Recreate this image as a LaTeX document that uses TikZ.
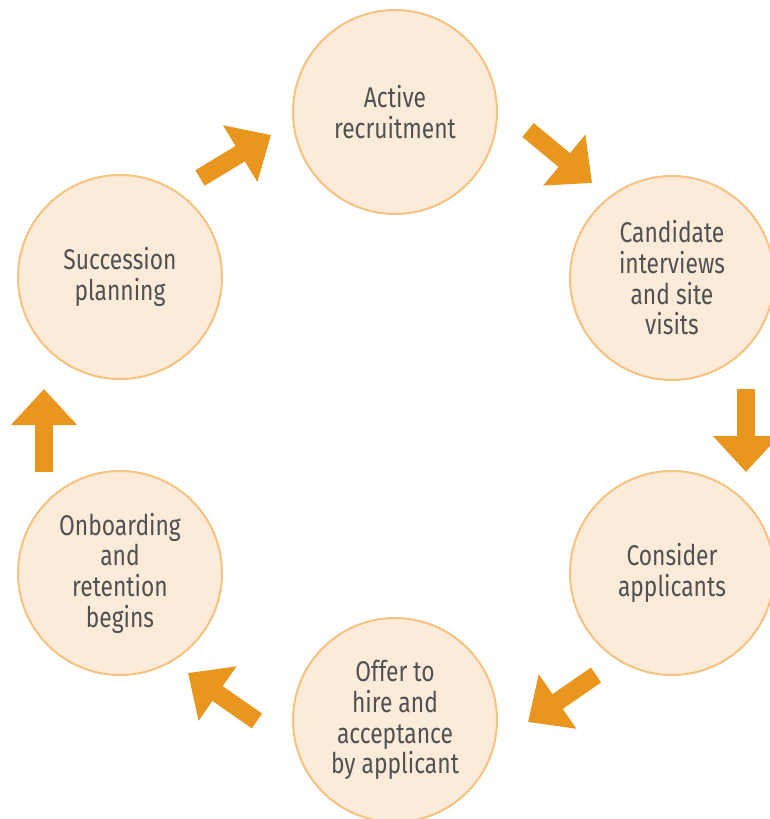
\documentclass[tikz,border=0pt]{standalone}
\usepackage{fontspec}
\setmainfont[FakeStretch=0.8]{Fira Sans}
\usetikzlibrary{arrows.meta}

\definecolor{stagefill}{HTML}{FCEBD8}
\definecolor{stageline}{HTML}{F5C27F}
\definecolor{stagetext}{HTML}{505153}
\definecolor{flow}{HTML}{E8961E}

\tikzset{
	stage/.style={circle, draw=stageline, line width=2pt, fill=stagefill,
		minimum size=204pt, inner sep=0pt, align=center, text=stagetext,
		font=\fontsize{28.5}{30.7}\selectfont},
	flowarrow/.style={draw=flow, line width=18pt,
		-{Triangle[length=36pt, width=64pt, color=flow]}}
}

\begin{document}
\begin{tikzpicture}[x=1pt,y=-1pt]
		\useasboundingbox (0,0) rectangle (769,819);

		\draw (395,112) node [stage] (active){Active\\recruitment};
		\draw (672,278) node [stage] (candidate){Candidate\\interviews\\and site\\visits};
		\draw (672,573) node [stage] (consider){Consider\\applicants};
		\draw (395,720) node [stage] (offer){Offer to\\hire and\\acceptance\\by applicant};
		\draw (120,573) node [stage] (onboard){Onboarding\\and\\retention\\begins};
		\draw (120,277) node [stage] (succession){Succession\\planning};

		% arrow ends in the gaps between the stages
		\coordinate (a1) at (200,178);  \coordinate (b1) at (271,135);
		\coordinate (a2) at (528,130);  \coordinate (b2) at (592,183);
		\coordinate (a3) at (746,389);  \coordinate (b3) at (746,472);
		\coordinate (a4) at (596,675);  \coordinate (b4) at (528,722);
		\coordinate (a5) at (257,721);  \coordinate (b5) at (188,673);
		\coordinate (a6) at (44,472);   \coordinate (b6) at (44,389);

		\foreach \i in {1,...,6}
			\draw [flowarrow] (a\i) -- (b\i);
	\end{tikzpicture}
\end{document}
